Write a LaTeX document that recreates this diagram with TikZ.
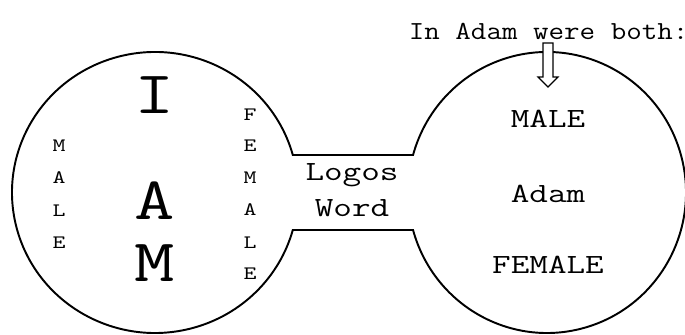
\documentclass[tikz,border=0pt]{standalone}
\usepackage{fontspec}
\newfontfamily\headfnt{Latin Modern Mono}[FakeStretch=1.16]
\newfontfamily\labelfnt{Latin Modern Mono}[FakeStretch=1.3]
\usetikzlibrary{calc}

\begin{document}
\begin{tikzpicture}[
		every node/.style={inner sep=0pt, anchor=base},
		big/.style={font=\labelfnt\fontsize{34.3}{36}\selectfont},
		small/.style={font=\labelfnt\fontsize{10.8}{12}\selectfont},
		word/.style={font=\labelfnt\fontsize{15.8}{18}\selectfont}
	]
  \useasboundingbox (0cm, 0cm) rectangle (13.7cm, 6.7cm);
  \coordinate (lc) at (3.1cm, 2.85cm);
  \coordinate (rc) at (10.94cm, 2.85cm);
  \coordinate (ltop) at ($(lc)+(15.48:2.86cm and 2.81cm)$);
  \coordinate (rbot) at ($(rc)+(195.48:2.78cm and 2.81cm)$);
  \draw [line width=1.1pt] (ltop)
    arc [start angle=15.48, end angle=344.52, x radius=2.86cm, y radius=2.81cm]
    -- (rbot)
    arc [start angle=195.48, end angle=524.52, x radius=2.78cm, y radius=2.81cm]
    -- cycle;
  \node (both) [anchor=base west, font=\headfnt\fontsize{14.8}{17}\selectfont] at (8.17cm, 5.91cm) {In Adam were both:};
  \coordinate (tip) at (10.96cm, 4.96cm);
  \draw [fill=white, line width=0.7pt] (tip) -- ++(0.2cm, 0.2cm) -- ++(-0.1cm, 0cm) -- ++(0cm, 0.68cm)
    -- ++(-0.2cm, 0cm) -- ++(0cm, -0.68cm) -- ++(-0.1cm, 0cm) -- cycle;
  \node (I) [big] at (3.1cm, 4.43cm) {I};
  \node (A) [big] at (3.1cm, 2.3cm) {A};
  \node (M) [big] at (3.1cm, 1.07cm) {M};
  \node (m1) [small] at (1.18cm, 3.66cm) {M};
  \node (m2) [small] at (1.18cm, 3.02cm) {A};
  \node (m3) [small] at (1.18cm, 2.36cm) {L};
  \node (m4) [small] at (1.18cm, 1.72cm) {E};
  \node (f1) [small] at (5cm, 4.28cm) {F};
  \node (f2) [small] at (5cm, 3.66cm) {E};
  \node (f3) [small] at (5cm, 3.02cm) {M};
  \node (f4) [small] at (5cm, 2.38cm) {A};
  \node (f5) [small] at (5cm, 1.72cm) {L};
  \node (f6) [small] at (5cm, 1.10cm) {E};
  \node (logos) [word] at (7.04cm, 3.08cm) {Logos};
  \node (word) [word] at (7.04cm, 2.36cm) {Word};
  \node (male) [word] at (10.96cm, 4.14cm) {MALE};
  \node (adam) [word] at (10.96cm, 2.64cm) {Adam};
  \node (female) [word] at (10.96cm, 1.22cm) {FEMALE};
\end{tikzpicture}
\end{document}
